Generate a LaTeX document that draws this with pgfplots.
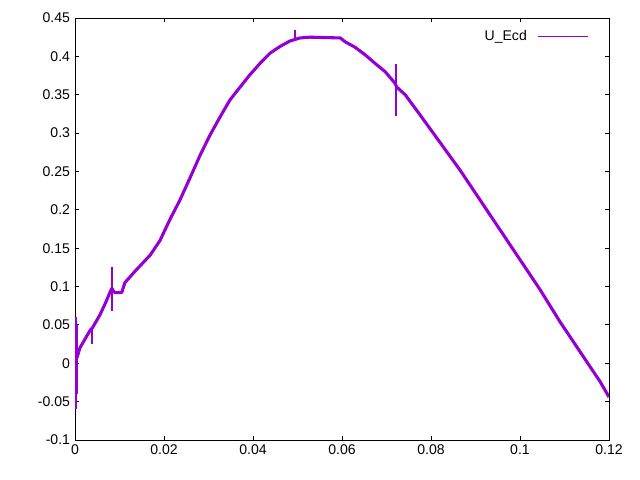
\documentclass[border=0pt]{standalone}
\usepackage{fontspec}
\setmainfont{Liberation Sans}
\usepackage{pgfplots}
\pgfplotsset{compat=1.18}
\definecolor{gpviolet}{HTML}{9400D3}
\begin{document}
\begin{tikzpicture}
\begin{axis}[
  scale only axis,
  width=13.35cm, height=10.55cm,
  xmin=0, xmax=0.12, ymin=-0.1, ymax=0.45,
  xtick={0,0.02,...,0.121},
  ytick={-0.1,-0.05,...,0.451},
  scaled x ticks=false, scaled y ticks=false,
  xticklabel style={/pgf/number format/fixed,/pgf/number format/precision=2},
  yticklabel style={/pgf/number format/fixed,/pgf/number format/precision=2},
  /pgf/number format/assume math mode=true,
  tick align=inside,
  major tick length=0.1cm,
  tick style={black, line width=0.7pt},
  axis line style={line width=0.7pt},
  every tick label/.append style={font=\fontsize{10}{12}\selectfont},
  legend style={draw=none, fill=none, at={(0.97,0.985)}, anchor=north east,
    font=\fontsize{10}{12}\selectfont, legend cell align=right, column sep=0.2cm},
  legend plot pos=right,
  legend image code/.code={\draw[gpviolet, line width=0.6pt] (0cm,0cm) -- (1.25cm,0cm);},
  unbounded coords=jump,
]
\addplot[gpviolet, line width=2.2pt, line join=bevel] coordinates {
(0,0.0) (0.0006,0.01)
(0.0011,0.02) (0.0023,0.032) (0.0034,0.043) (0.0039,0.046)
(0.0056,0.063) (0.0068,0.078) (0.0079,0.093) (0.0083,0.098)
(0.0085,0.095) (0.009,0.092) (0.0105,0.092) (0.0112,0.105) (0.0135,0.12) (0.0169,0.141)
(0.0191,0.16) (0.0213,0.187) (0.0236,0.213) (0.0258,0.241) (0.0281,0.271) (0.0303,0.297)
(0.0326,0.321) (0.0348,0.343) (0.0371,0.36) (0.0393,0.376) (0.0416,0.391) (0.0438,0.404)
(0.0461,0.413) (0.0483,0.42) (0.0494,0.422) (0.0506,0.424)
(0.0528,0.425) (0.0596,0.424) (0.0607,0.419) (0.0629,0.412) (0.0652,0.402) (0.0674,0.391)
(0.0697,0.38) (0.0719,0.365) (0.0723,0.36)
(0.0742,0.35) (0.0775,0.324) (0.082,0.288) (0.0865,0.252) (0.091,0.213) (0.0955,0.174)
(0.1,0.135) (0.1045,0.096) (0.109,0.054) (0.1135,0.015) (0.118,-0.024) (0.12,-0.044)
};
\addlegendentry{U\_Ecd}
\addplot[color=gpviolet, line width=1.1pt, forget plot] coordinates {
(0.0002,0.06) (0.0002,-0.06) (0.0002,nan)
(0.0005,0.05) (0.0005,-0.04) (0.0005,nan)
(0.0038,0.045) (0.0038,0.025) (0.0038,nan)
(0.0083,0.125) (0.0083,0.068) (0.0083,nan)
(0.0494,0.435) (0.0494,0.422) (0.0494,nan)
(0.0721,0.39) (0.0721,0.322)
};
\end{axis}
\path (current axis.south west) ++(-1.875cm,-1cm) (current axis.north east) ++(0.775cm,0.45cm);
\end{tikzpicture}
\end{document}
